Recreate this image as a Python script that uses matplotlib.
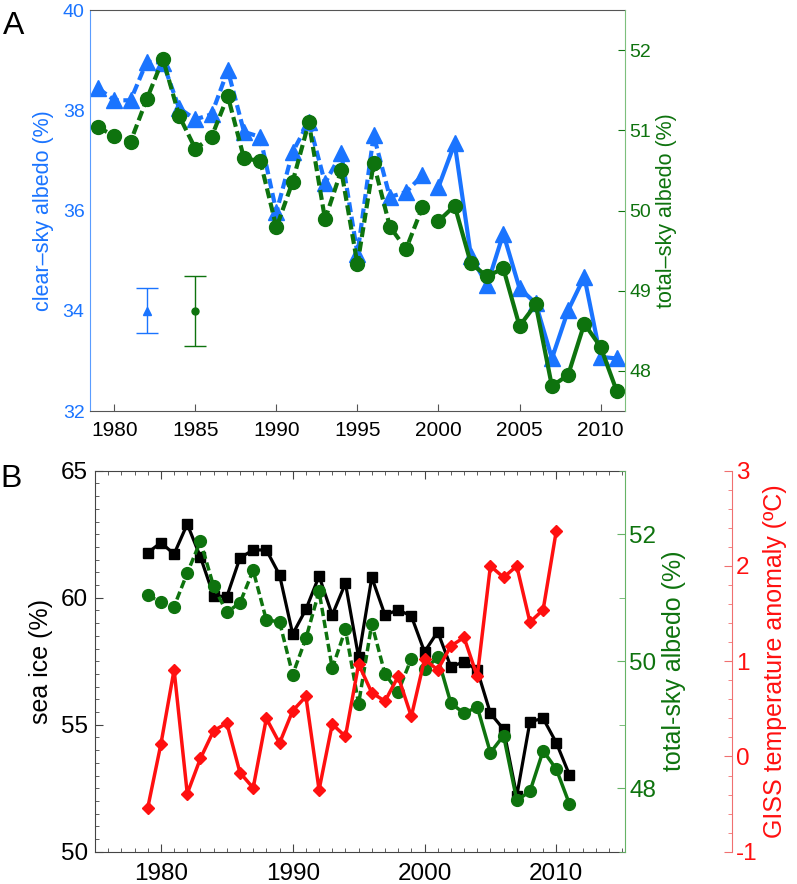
import matplotlib
matplotlib.use('Agg')
import matplotlib.pyplot as plt
from matplotlib.ticker import MultipleLocator

plt.rcParams['font.family'] = ['Liberation Sans', 'DejaVu Sans']
plt.rcParams['axes.unicode_minus'] = False

# ---- data ----
years = list(range(1979, 2012))

clear_sky = [38.44, 38.2, 38.2, 38.97, 38.95, 38.04, 37.82, 37.92, 38.8, 37.57,
             37.47, 35.97, 37.17, 37.77, 36.55, 37.14, 35.14, 37.5, 36.27, 36.37,
             36.7, 36.47, 37.34, 35.1, 34.51, 35.54, 34.45, 34.15, 33.05, 34.01,
             34.68, 33.08, 33.05]

total_sky = [51.04, 50.93, 50.86, 51.39, 51.89, 51.18, 50.77, 50.92, 51.43, 50.65,
             50.62, 49.79, 50.36, 51.1, 49.89, 50.5, 49.33, 50.59, 49.8, 49.52,
             50.04, 49.87, 50.06, 49.34, 49.18, 49.28, 48.56, 48.83, 47.81, 47.95,
             48.59, 48.3, 47.75]

sea_ice = [61.77, 62.17, 61.72, 62.9, 61.6, 60.08, 60.04, 61.57, 61.88, 61.88,
           60.9, 58.57, 59.54, 60.85, 59.32, 60.57, 57.65, 60.8, 59.32, 59.52,
           59.28, 57.87, 58.66, 57.28, 57.48, 57.15, 55.45, 54.82, 52.2, 55.12,
           55.25, 54.29, 53.02]

giss_years = list(range(1979, 2011))
giss = [-0.54, 0.13, 0.91, -0.39, -0.02, 0.27, 0.35, -0.17, -0.33, 0.40,
        0.14, 0.48, 0.63, -0.35, 0.34, 0.21, 0.97, 0.67, 0.58, 0.84,
        0.42, 1.02, 0.91, 1.16, 1.25, 0.84, 2.0, 1.88, 2.0, 1.41,
        1.54, 2.37]

# error bars (panel A, drawn on left scale)
err_x = [1982, 1985]
err_y = [34.0, 34.0]
err_size = [0.45, 0.7]

split = years.index(1999) + 1  # dashed up to 1999, solid from 2000

blue = '#1a74ff'
green = '#0e730e'
red = '#ff1010'

fig = plt.figure(figsize=(7.97, 8.84), dpi=100)

# ---------------- panel A ----------------
axA = fig.add_axes([0.113, 0.535, 0.671, 0.4536])
axA2 = axA.twinx()

dash = (2.4, 1.1)
axA.plot(years[:split], clear_sky[:split], color=blue, lw=3, dashes=dash,
         marker='^', ms=11)
axA.plot(years[split:], clear_sky[split:], color=blue, lw=3,
         marker='^', ms=11)
axA.errorbar(err_x[0], err_y[0], yerr=err_size[0], color=blue, marker='^',
             ms=6, lw=1, capsize=8, capthick=1)
axA.errorbar(err_x[1], err_y[1], yerr=err_size[1], color=green, marker='o',
             ms=5, lw=1, capsize=8, capthick=1)

axA2.plot(years[:split], total_sky[:split], color=green, lw=3, dashes=dash,
          marker='o', ms=10)
axA2.plot(years[split:], total_sky[split:], color=green, lw=3,
          marker='o', ms=10)

axA.set_xlim(1978.5, 2011.5)
axA.set_ylim(32, 40)
axA2.set_ylim(47.5, 52.5)
axA.set_xticks(range(1980, 2011, 5))
axA.set_yticks([32, 34, 36, 38, 40])
axA2.set_yticks([48, 49, 50, 51, 52])

for s in ['top', 'bottom']:
    axA.spines[s].set_color('#555555')
axA.spines['left'].set_color('#5a9cff')
axA2.spines['left'].set_visible(False)
axA2.spines['right'].set_color('#7dbf7d')
axA.spines['right'].set_visible(False)
axA2.spines['top'].set_visible(False)
axA2.spines['bottom'].set_visible(False)

axA.tick_params(axis='x', direction='in', length=5, color='#555555', pad=7)
for lab in axA.get_xticklabels():
    lab.set_family(['Liberation Sans Narrow', 'Liberation Sans'])
    lab.set_fontsize(15)
axA.tick_params(axis='y', direction='in', length=0, labelcolor=blue,
                labelsize=14, pad=4)
axA2.tick_params(axis='y', direction='in', length=5, color=green,
                 labelcolor=green, labelsize=14, pad=3)

axA.set_ylabel('clear\u2013sky albedo (%)', color=blue, fontsize=15.5, labelpad=6)
axA2.set_ylabel('total\u2013sky albedo (%)', color=green, fontsize=15.5, labelpad=4)

fig.text(0.004, 0.987, 'A', fontsize=23, va='top', ha='left')

# ---------------- panel B ----------------
axB = fig.add_axes([0.1192, 0.0365, 0.6648, 0.431])
axB2 = axB.twinx()
axB3 = axB.twinx()
axB3.spines['right'].set_position(('axes', 1.202))

axB.plot(years, sea_ice, color='black', lw=2.3, marker='s', ms=7)
axB2.plot(years[:split], total_sky[:split], color=green, lw=2.5, dashes=(2.4, 1.1),
          marker='o', ms=8.5)
axB2.plot(years[split:], total_sky[split:], color=green, lw=2.5,
          marker='o', ms=8.5)
axB3.plot(giss_years, giss, color=red, lw=2.5, marker='D', ms=6.5)

axB.set_xlim(1975, 2015.2)
axB.set_ylim(50, 65)
axB2.set_ylim(47, 53)
axB3.set_ylim(-1, 3)

axB.set_xticks([1980, 1990, 2000, 2010])
axB.xaxis.set_minor_locator(MultipleLocator(1))
axB.set_yticks([50, 55, 60, 65])
axB.yaxis.set_minor_locator(MultipleLocator(0.5))
axB2.set_yticks([48, 50, 52])
axB2.yaxis.set_minor_locator(MultipleLocator(1))
axB3.set_yticks([-1, 0, 1, 2, 3])
axB3.yaxis.set_minor_locator(MultipleLocator(0.2))

for s in ['top', 'bottom', 'left']:
    axB.spines[s].set_color('#444444')
axB.spines['right'].set_visible(False)
axB2.spines['right'].set_color('#66b366')
axB3.spines['right'].set_color('#f07070')
for a in (axB2, axB3):
    a.spines['left'].set_visible(False)
    a.spines['top'].set_visible(False)
    a.spines['bottom'].set_visible(False)

axB.tick_params(axis='x', which='both', direction='in', top=True,
                color='#444444', labelsize=17.5, pad=8)
axB.tick_params(axis='x', which='major', length=6)
axB.tick_params(axis='x', which='minor', length=3)
axB.tick_params(axis='y', which='both', direction='in', color='#444444',
                labelsize=17.5, pad=5)
axB.tick_params(axis='y', which='major', length=6)
axB.tick_params(axis='y', which='minor', length=3)
axB2.tick_params(axis='y', which='both', direction='in', color='#66b366',
                 labelcolor=green, labelsize=17.5, pad=3)
axB2.tick_params(axis='y', which='major', length=6)
axB2.tick_params(axis='y', which='minor', length=4)
axB3.tick_params(axis='y', which='both', direction='in', color='#f07070',
                 labelcolor=red, labelsize=17.5, pad=3)
axB3.tick_params(axis='y', which='major', length=6)
axB3.tick_params(axis='y', which='minor', length=3)

axB.set_ylabel('sea ice (%)', fontsize=18, labelpad=6)
axB2.set_ylabel('total-sky albedo (%)', color=green, fontsize=18, labelpad=4)
axB3.set_ylabel('GISS temperature anomaly (ºC)', color=red, fontsize=18, labelpad=4)

fig.text(0.0, 0.475, 'B', fontsize=23, va='top', ha='left')

fig.savefig('out.png', dpi=100)
